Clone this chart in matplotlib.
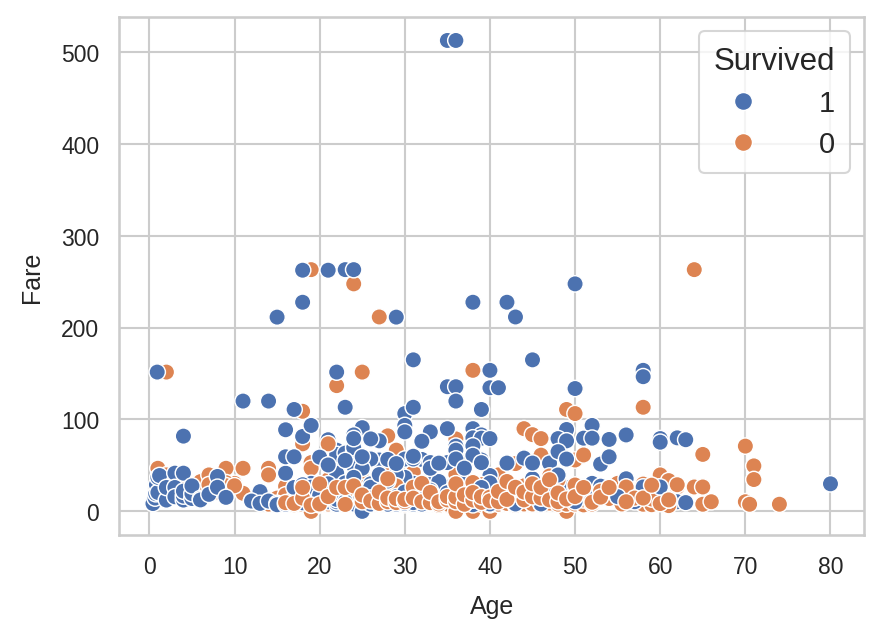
import matplotlib
matplotlib.use("Agg")
import matplotlib.pyplot as plt
import pandas as pd
import seaborn as sns

# (Age, Fare) pares
survived_pts = [
    (35, 512.33), (36, 512.33),
    (18, 262.38), (21, 262.38), (23, 263), (24, 263),
    (18, 227.53), (15, 211.34), (29, 211.34), (38, 227.53), (42, 227.53), (43, 211.5), (50, 247.52),
    (0.92, 151.55), (22, 151.55), (23, 113.28), (31, 164.87), (45, 164.87),
    (11, 120), (14, 120), (4, 81.86), (17, 110.88),
    (35, 135.63), (36, 135.63), (36, 120), (39, 110.88), (40, 134.5), (41, 134.5), (40, 153.46),
    (30, 106.43), (31, 113.28), (30, 93.5), (30, 86.5),
    (50, 133.65), (58, 153.46), (58, 146.52),
    (52, 93.5), (49, 89.1), (48, 79.2), (49, 76.73), (51, 79.65), (52, 79.65), (54, 78.27),
    (56, 83.16), (60, 79.2), (60, 75.25), (62, 80), (63, 77.96),
    (80, 30), (62, 10.5), (63, 9.59),
    (56, 35.5), (54, 26), (45, 26.55), (48, 25.93), (49, 25.93), (51, 26.55), (52, 30.5),
    (42, 26.29), (42, 13), (45, 13.5), (42, 52.55), (44, 57.98), (47, 52.55), (48, 65),
    (49, 56.93), (53, 51.48), (54, 59.4), (40, 39),
    (0.42, 8.52), (0.67, 14.5), (0.75, 19.26), (0.83, 29), (1, 20.58), (1, 37), (1.2, 39),
    (2, 12.29), (2, 26), (3, 41.58), (3, 26), (3, 15.9), (4, 41.58), (4, 12.29), (4, 16.7),
    (4, 22.03), (5, 14), (5, 19.26), (5, 27.75), (6, 14), (6, 12.48), (7, 18.5), (8, 38),
    (8, 26.25), (9, 15.25), (13, 21.5), (12, 11.24), (13, 8.7), (14, 11.24), (15, 8.7),
    (16, 41.58), (16, 59.4), (17, 59.4), (18, 81.5), (16, 88.8), (19, 93.5), (18, 11),
    (19, 30.5), (15, 7.23), (16, 7.75), (17, 10.5), (18, 9.35), (19, 7.8), (20, 7.93),
    (25, 91.08), (24, 83.16), (27, 76.73), (26, 78.85), (21, 77.96), (22, 66.6), (22, 55),
    (22, 49.5), (22, 41.58), (22, 61.98), (23, 63.36), (24, 65), (24, 69.3), (24, 79.2),
    (33, 86.5), (35, 90), (38, 90), (39, 83.16), (35, 53.1), (37, 53.1), (39, 55.9),
    (32, 56.5), (33, 53.1), (27, 55.9), (26, 57), (24, 49.5), (25, 46.9), (31, 30.5),
    (30, 37), (35, 26.55), (26, 30), (28, 26.55), (30, 56.93), (31, 57), (32, 76.29),
    (36, 71), (38, 80), (39, 79.65), (38, 71.28), (40, 79.2), (38, 61), (36, 66.6),
    (21, 10.5), (22, 7.75), (22, 10.52), (22, 13), (23, 13.79), (24, 8.05), (24, 16.7),
    (24, 26), (25, 0), (26, 7.93), (27, 12.48), (27, 30.5), (28, 13), (29, 26), (29, 7.75),
    (30, 12.48), (30, 8.66), (31, 7.75), (31, 20.53), (32, 7.93), (32, 13), (33, 15.85),
    (33, 12.28), (34, 13), (34, 23), (35, 26.29), (36, 12.18), (36, 26.39), (36, 13),
    (38, 7.23), (39, 13.42), (40, 13), (40, 31), (41, 20.21), (43, 8.05), (44, 16.1),
    (48, 13), (48, 39.6), (50, 10.5), (50, 26), (52, 13.5), (53, 27.45), (55, 16),
    (57, 10.5), (58, 26.55), (60, 26.55), (29, 40), (33, 29.7), (37, 30.7), (45, 35.5),
    (26, 26.3), (23, 31), (20, 26), (27, 40.1), (28, 33), (34, 32.5),
    (17, 26), (18, 29), (19, 26.3), (20, 17.5), (21, 30), (22, 20.5), (23, 10.5),
    (24, 37), (25, 13), (26, 14.5), (27, 7.9), (28, 7.75), (29, 16.1), (30, 21),
    (31, 9.5), (32, 26), (33, 23), (34, 10.5), (35, 20.25), (36, 29.7), (37, 8.05),
    (38, 16.1), (39, 26), (40, 8.05), (41, 13), (43, 26.25), (44, 13), (46, 8.05),
    (47, 26), (20, 59), (21, 50.5), (23, 55.4), (25, 59.4), (28, 56.5), (29, 52),
    (31, 60), (33, 46.9), (34, 52.5), (36, 57), (37, 47), (39, 53), (45, 52.55),
]

died_pts = [
    (19, 263), (64, 263), (24, 247.52), (27, 211.5), (2, 151.55), (22, 136.78), (25, 151.55),
    (38, 153.46), (18, 108.9), (58, 113.28), (49, 110.88), (50, 106.43), (44, 90), (45, 83.48),
    (46, 79.2), (46, 61.18), (50, 55.9), (51, 61.38), (43, 52), (41, 39.69), (44, 27.72),
    (47, 25.59), (55, 30.5), (58, 29.7), (60, 39.69), (60, 26.55), (61, 32.32), (62, 26.55),
    (64, 26.55), (65, 26.55), (65, 61.98), (70, 71), (71, 49.5), (71, 34.65), (70, 10.5),
    (70.5, 7.75), (74, 7.78), (65, 7.75), (66, 10.5), (49, 0),
    (1, 46.9), (2, 39.69), (2, 31.28), (4, 32.4), (6, 32.4), (7, 39.69), (8, 30.5),
    (9, 46.9), (9, 17.8), (10, 30.5), (11, 46.9), (11, 19.7), (14, 46.9), (14, 39.69),
    (16, 27.3), (17, 10.5), (19, 8.7), (19, 53.1), (18, 73.5),
    (2, 29.13), (2, 27.9), (3, 21.07), (4, 29.13), (6, 21.07), (7, 29.13), (8, 21.07),
    (9, 31.27), (9, 27.9), (10, 27.9), (12, 11.24), (15, 14.45),
    (28, 82.17), (29, 66.6), (24, 75.24), (32, 76.29), (36, 78.85), (31, 50.5), (19, 46.9),
    (25, 35.5), (28, 47.1), (31, 42.4), (36, 40.1), (39, 29.13), (21, 34.4), (48, 34.02),
    (14, 7.85), (15, 8.03), (16, 7.75), (16, 18), (17, 7.23), (17, 14.45), (18, 7.5),
    (18, 11.5), (18, 20.2), (19, 7.89), (19, 10.17), (19, 14.5), (19, 0), (20, 7.05),
    (20, 9.85), (20, 15.5), (21, 7.73), (21, 8.05), (21, 11.5), (21, 24.15), (22, 7.25),
    (22, 9), (22, 10.52), (23, 7.85), (23, 9.22), (23, 13), (24, 7.05), (24, 7.5), (24, 9.5),
    (24, 16.1), (25, 7.05), (25, 7.65), (25, 13), (25, 26), (26, 7.89), (26, 8.66),
    (26, 14.45), (26, 18.79), (27, 7.9), (27, 10.5), (27, 13), (28, 7.9), (28, 8.05),
    (28, 22.52), (28, 9.5), (29, 7.92), (29, 10.46), (29, 21), (30, 7.23), (30, 8.66),
    (30, 16.1), (30, 24.15), (31, 7.75), (31, 10.5), (31, 18), (32, 7.92), (32, 8.36),
    (32, 15.5), (33, 7.9), (33, 8.65), (33, 12.27), (34, 6.5), (34, 13), (34, 21),
    (35, 7.05), (35, 8.05), (35, 26.55), (36, 7.9), (36, 0), (36, 24.15), (37, 7.92),
    (37, 9.59), (37, 26), (38, 0), (38, 8.66), (39, 7.93), (39, 13), (39, 24.15), (40, 0),
    (40, 7.23), (40, 9.47), (40, 27.72), (41, 7.85), (41, 14.1), (42, 7.55), (42, 8.66),
    (43, 6.45), (43, 8.05), (44, 8.05), (44, 16.1), (45, 7.75), (45, 8.05), (46, 7.9),
    (47, 9), (47, 15), (47, 38.5), (48, 7.85), (49, 7.9), (50, 8.05), (50, 13), (51, 7.05),
    (51, 12.52), (52, 7.98), (54, 14), (55, 16), (55.5, 8.05), (56, 26.55), (57, 12.35),
    (58, 7.75), (59, 7.25), (59, 13.5), (61, 6.24), (61, 12.35), (61, 33.5), (62, 29),
    (20, 20), (23, 20.5), (26, 23), (27, 29.5), (29, 27.7), (32, 25), (34, 29.1), (38, 31.4),
    (42, 21.7), (46, 22.5), (50, 28.7), (53, 22), (57, 14.5),
    (16, 9.5), (17, 8.66), (18, 14.45), (18, 26), (19, 6.75), (20, 8.05), (20, 30),
    (21, 16.1), (21, 73.5), (22, 26), (23, 26), (23, 7.55), (24, 27.72), (25, 10.5),
    (25, 17.8), (26, 11.5), (27, 8.66), (27, 21), (28, 10.5), (28, 14.5), (28, 35.5),
    (29, 9.5), (29, 13.9), (30, 10.5), (30, 13), (31, 26.25), (31, 14.4), (32, 10.5),
    (32, 30.5), (33, 9.5), (33, 20.6), (34, 8.05), (34, 10.5), (35, 12.5), (35, 16.1),
    (36, 10.5), (36, 15.5), (36, 30), (37, 7.75), (37, 18), (38, 12.35), (38, 20.5),
    (39, 9.8), (39, 16), (40, 15.5), (40, 11.5), (41, 10.5), (41, 21.7), (42, 13),
    (42, 32.5), (43, 26.25), (44, 12.5), (44, 21), (45, 15.85), (45, 30), (46, 14.5),
    (46, 26), (47, 12.5), (47, 34.5), (48, 10.5), (48, 20), (49, 13.5), (50, 16.1),
    (51, 26), (52, 10), (53, 15.5), (54, 26), (56, 10.5), (58, 14.5), (59, 28.5),
    (60, 8.5), (61, 12.5),
]

colors = {"1": "#4C72B0", "0": "#DD8452"}

sns.set_theme(style="whitegrid")
plt.rcParams["font.family"] = ["Liberation Sans", "DejaVu Sans"]

# intercala as duas series para a ordem de desenho ficar misturada
linhas = []
for i, (a, f) in enumerate(survived_pts):
    linhas.append({"Age": a, "Fare": f, "Survived": "1", "ordem": i * 2})
for i, (a, f) in enumerate(died_pts):
    linhas.append({"Age": a, "Fare": f, "Survived": "0", "ordem": i * 2 + 1})
titanic = pd.DataFrame(linhas).sort_values("ordem")

fig = plt.figure(figsize=(5.88, 4.253), dpi=150)
ax = fig.add_axes([0.135, 0.160, 0.845, 0.812])

sns.scatterplot(data=titanic, x="Age", y="Fare", hue="Survived", hue_order=["1", "0"],
                palette=colors, s=62, linewidth=0.7, edgecolor="white", ax=ax)

ax.tick_params(labelsize=11)
ax.set_xlabel("Age", fontsize=12, labelpad=8)
ax.set_ylabel("Fare", fontsize=12, labelpad=8)
ax.set_xticks(range(0, 81, 10))
ax.set_yticks(range(0, 501, 100))
ax.legend(title="Survived", loc="upper right", fontsize=14, title_fontsize=15,
          labelspacing=0.45, handletextpad=1.6, borderpad=0.5, markerscale=1.1)

fig.savefig("out.png", dpi=150)
